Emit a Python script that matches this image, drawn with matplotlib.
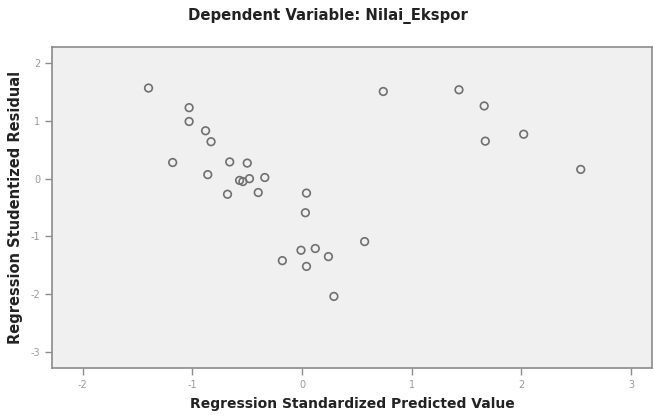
import matplotlib.pyplot as plt

# regression standardized predicted value vs studentized residual
pred = [-1.40, -1.03, -1.03, -0.88, -0.83, -1.18, -0.86, -0.66, -0.50,
        -0.68, -0.57, -0.54, -0.48, -0.34, -0.40, 0.04, 0.03, 0.74,
        1.43, 1.66, 1.67, 2.02, 2.54, 0.57, -0.01, 0.12, 0.24, -0.18,
        0.04, 0.29]
resid = [1.57, 1.23, 0.99, 0.83, 0.64, 0.28, 0.07, 0.29, 0.27,
         -0.27, -0.03, -0.05, 0.00, 0.02, -0.24, -0.25, -0.59, 1.51,
         1.54, 1.26, 0.65, 0.77, 0.16, -1.09, -1.24, -1.21, -1.35, -1.42,
         -1.52, -2.04]

xticks = [-2, -1, 0, 1, 2, 3]
yticks = [-3, -2, -1, 0, 1, 2]

plt.rcParams['font.family'] = ['DejaVu Sans']

fig = plt.figure(figsize=(6.54, 4.19), dpi=100)
ax = fig.add_axes([0.0795, 0.1217, 0.9175, 0.766])
ax.set_facecolor('#f0f0f0')

ax.scatter(pred, resid, s=30, facecolors='none', edgecolors='#707070', linewidths=1.2, zorder=3)

ax.set_xlim(-2.28, 3.19)
ax.set_ylim(-3.28, 2.28)
ax.set_xticks(xticks)
ax.set_yticks(yticks)
ax.set_xticklabels([str(t) for t in xticks])
ax.set_yticklabels([str(t) for t in yticks])

for s in ax.spines.values():
    s.set_color('#8c8c8c')
    s.set_linewidth(1.2)

ax.tick_params(axis='both', direction='out', length=5, width=1, color='#8c8c8c',
               labelcolor='#9a9a9a', labelsize=7)

ax.set_xlabel('Regression Standardized Predicted Value', fontsize=10, fontweight='bold',
              color='#222222', labelpad=5)
ax.set_ylabel('Regression Studentized Residual', fontsize=10.5, fontweight='bold',
              color='#222222', labelpad=5)
fig.text(0.502, 0.962, 'Dependent Variable: Nilai_Ekspor', ha='center', va='center',
         fontsize=10.7, fontweight='bold', color='#222222')

plt.savefig('out.png', dpi=100)
